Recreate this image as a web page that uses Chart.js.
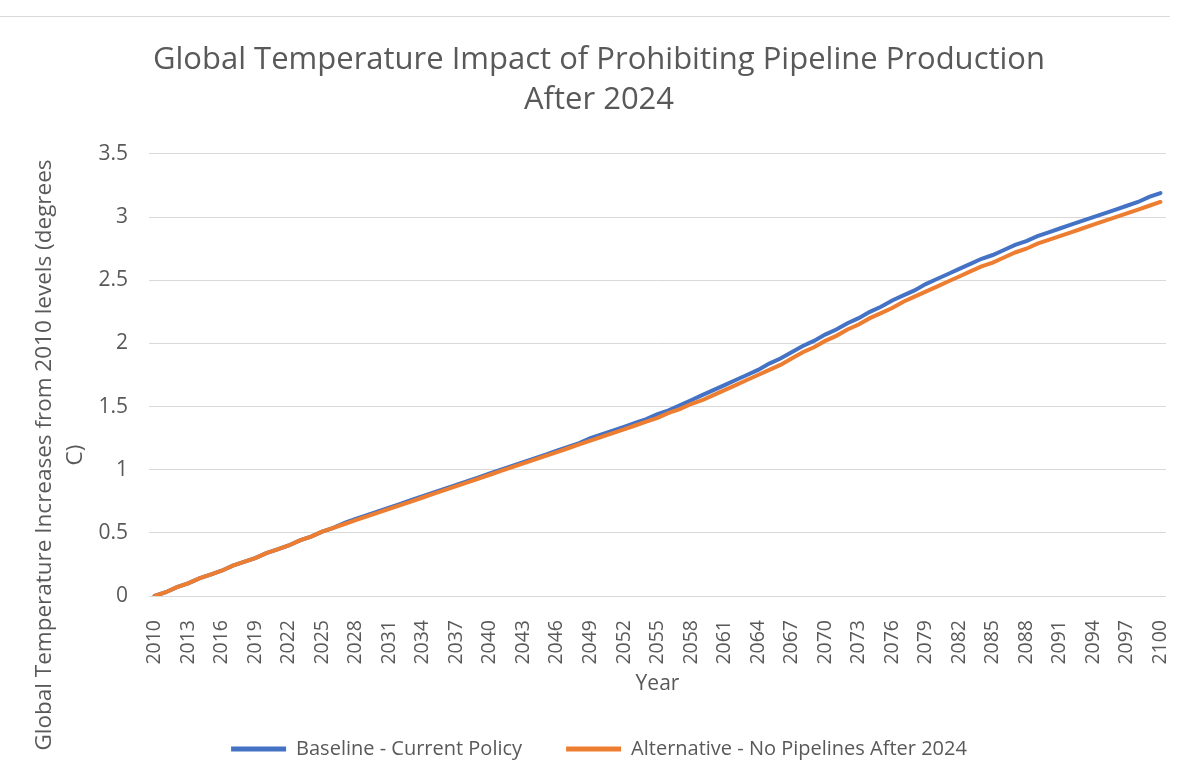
<!DOCTYPE html>
<html>
<head>
<meta charset="utf-8">
<title>Global Temperature Impact of Prohibiting Pipeline Production</title>
<script src="https://cdn.jsdelivr.net/npm/chart.js@4.4.1/dist/chart.umd.min.js"></script>
<style>
  html, body { margin: 0; padding: 0; background: #fff; }
  #wrap { position: relative; width: 1182px; height: 776px; }
  #topRule { position: absolute; left: 0; top: 16px; width: 1170px; height: 1px; background: #d9d9d9; }
  canvas { position: absolute; left: 0; top: 0; }
</style>
</head>
<body>
<div id="wrap">
  <div id="topRule"></div>
  <canvas id="tempChart" width="1182" height="776"></canvas>
</div>
<script>
// years on the x axis, 2010 - 2100
const years = Array.from({ length: 91 }, (_, i) => String(2010 + i));

// one value per year
const baseline = [
  0.00, 0.03, 0.07, 0.10, 0.14, 0.17, 0.20, 0.24, 0.27, 0.30,
  0.34, 0.37, 0.40, 0.44, 0.47, 0.51, 0.54, 0.58, 0.61, 0.64,
  0.67, 0.70, 0.73, 0.76, 0.79, 0.82, 0.85, 0.88, 0.91, 0.94,
  0.97, 1.00, 1.03, 1.06, 1.09, 1.12, 1.15, 1.18, 1.21, 1.25,
  1.28, 1.31, 1.34, 1.37, 1.40, 1.44, 1.47, 1.51, 1.55, 1.59,
  1.63, 1.67, 1.71, 1.75, 1.79, 1.84, 1.88, 1.93, 1.98, 2.02,
  2.07, 2.11, 2.16, 2.20, 2.25, 2.29, 2.34, 2.38, 2.42, 2.47,
  2.51, 2.55, 2.59, 2.63, 2.67, 2.70, 2.74, 2.78, 2.81, 2.85,
  2.88, 2.91, 2.94, 2.97, 3.00, 3.03, 3.06, 3.09, 3.12, 3.16,
  3.19
];

const alternative = [
  0.00, 0.03, 0.07, 0.10, 0.14, 0.17, 0.20, 0.24, 0.27, 0.30,
  0.34, 0.37, 0.40, 0.44, 0.47, 0.51, 0.54, 0.57, 0.60, 0.63,
  0.66, 0.69, 0.72, 0.75, 0.78, 0.81, 0.84, 0.87, 0.90, 0.93,
  0.96, 0.99, 1.02, 1.05, 1.08, 1.11, 1.14, 1.17, 1.20, 1.23,
  1.26, 1.29, 1.32, 1.35, 1.38, 1.41, 1.45, 1.48, 1.52, 1.55,
  1.59, 1.63, 1.67, 1.71, 1.75, 1.79, 1.83, 1.88, 1.93, 1.97,
  2.02, 2.06, 2.11, 2.15, 2.20, 2.24, 2.28, 2.33, 2.37, 2.41,
  2.45, 2.49, 2.53, 2.57, 2.61, 2.64, 2.68, 2.72, 2.75, 2.79,
  2.82, 2.85, 2.88, 2.91, 2.94, 2.97, 3.00, 3.03, 3.06, 3.09,
  3.12
];

const seriesNames = ["Baseline - Current Policy", "Alternative - No Pipelines After 2024"];
const seriesColors = ["#4472C4", "#ED7D31"];
const chartTitle = ["Global Temperature Impact of Prohibiting Pipeline Production", "After 2024"];
const yTitleLines = ["Global Temperature Increases from 2010 levels (degrees", "C)"];

const textColor = "#595959";
const gridColor = "#d9d9d9";
const fontFamily = "'Open Sans', 'Noto Sans', sans-serif";

// Excel puts the long y title lower than the plot middle, so draw it by hand
const yTitlePlugin = {
  id: "yTitle",
  afterDraw(chart) {
    const c = chart.ctx;
    c.save();
    c.translate(0, 455);
    c.rotate(-Math.PI / 2);
    c.fillStyle = textColor;
    c.font = "22.5px " + fontFamily;
    c.textAlign = "center";
    c.textBaseline = "middle";
    yTitleLines.forEach((line, i) => c.fillText(line, 0, 45 + i * 31));
    c.restore();
  },
};

const ctx = document.getElementById("tempChart").getContext("2d");
new Chart(ctx, {
  type: "line",
  plugins: [yTitlePlugin],
  data: {
    labels: years,
    datasets: [
      {
        label: seriesNames[0],
        data: baseline,
        borderColor: seriesColors[0],
        backgroundColor: seriesColors[0],
        borderWidth: 4,
        pointRadius: 0,
        borderCapStyle: "round",
        order: 1,
      },
      {
        label: seriesNames[1],
        data: alternative,
        borderColor: seriesColors[1],
        backgroundColor: seriesColors[1],
        borderWidth: 4,
        pointRadius: 0,
        borderCapStyle: "round",
        order: 0, // drawn on top, like Excel
      },
    ],
  },
  options: {
    responsive: false,
    animation: false,
    layout: {
      padding: { top: 0, left: 16, right: 0, bottom: 7 },
    },
    plugins: {
      tooltip: { enabled: false },
      title: {
        display: true,
        text: chartTitle,
        color: textColor,
        font: { family: fontFamily, size: 31, weight: "normal", lineHeight: 1.29 },
        padding: { top: 40, bottom: 34 },
      },
      legend: {
        position: "bottom",
        labels: {
          color: textColor,
          font: { family: fontFamily, size: 20 },
          boxWidth: 55,
          boxHeight: 5,
          padding: 44,
          generateLabels: (chart) => {
            const items = Chart.defaults.plugins.legend.labels.generateLabels(chart);
            items.sort((a, b) => a.datasetIndex - b.datasetIndex);
            items.forEach((it) => {
              it.fillStyle = it.strokeStyle;
              it.lineWidth = 0;
            });
            return items;
          },
        },
      },
    },
    scales: {
      x: {
        type: "category",
        offset: true,
        grid: { display: false },
        border: { display: false },
        ticks: {
          autoSkip: false,
          maxRotation: 90,
          minRotation: 90,
          padding: 16,
          color: textColor,
          font: { family: fontFamily, size: 19.5 },
          callback: function (val, index) {
            return index % 3 === 0 ? this.getLabelForValue(val) : "";
          },
        },
        title: {
          display: true,
          text: "Year",
          color: textColor,
          font: { family: fontFamily, size: 21, lineHeight: 1.0 },
          padding: { top: 0, bottom: 0 },
        },
        afterFit: (scale) => {
          scale.height = 99;
          scale.paddingLeft = 0;
          scale.paddingRight = 16;
        },
      },
      y: {
        min: 0,
        max: 3.5,
        grid: { color: gridColor, lineWidth: 1, drawTicks: false },
        border: { display: false },
        ticks: {
          stepSize: 0.5,
          padding: 21,
          color: textColor,
          font: { family: fontFamily, size: 21 },
          callback: (value) => String(value),
        },
        afterFit: (scale) => {
          scale.width = 133;
        },
      },
    },
  },
});
</script>
</body>
</html>
